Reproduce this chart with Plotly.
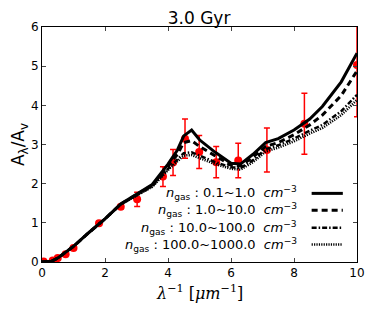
import plotly.graph_objects as go

# model curves
x_model = [0, 0.3, 0.5, 1.0, 1.5, 2.0, 2.5, 3.0, 3.5, 4.0, 4.3, 4.5, 4.75, 5.0, 5.5, 6.0, 6.3, 6.7, 7.1, 7.5, 8.0, 8.5, 8.9, 9.5, 10]
y_n01_1 = [0.0, 0.02, 0.1, 0.4, 0.76, 1.1, 1.48, 1.73, 1.98, 2.5, 2.86, 3.22, 3.37, 3.12, 2.8, 2.52, 2.5, 2.75, 3.05, 3.15, 3.37, 3.65, 3.97, 4.6, 5.33]
y_n1_10 = [0.0, 0.02, 0.1, 0.4, 0.76, 1.1, 1.48, 1.72, 1.96, 2.45, 2.75, 3.05, 3.1, 2.95, 2.7, 2.47, 2.45, 2.68, 2.95, 3.05, 3.25, 3.5, 3.75, 4.25, 4.88]
y_n10_100 = [0.0, 0.02, 0.1, 0.4, 0.76, 1.1, 1.47, 1.7, 1.93, 2.38, 2.62, 2.78, 2.8, 2.72, 2.55, 2.42, 2.4, 2.6, 2.88, 2.98, 3.15, 3.35, 3.5, 3.85, 4.27]
y_n100_1000 = [0.0, 0.02, 0.1, 0.4, 0.76, 1.1, 1.47, 1.7, 1.92, 2.35, 2.58, 2.72, 2.73, 2.66, 2.5, 2.38, 2.36, 2.55, 2.82, 2.92, 3.08, 3.28, 3.42, 3.75, 4.14]

# observed points
x_obs = [0.05, 0.34, 0.5, 0.75, 1.0, 1.81, 2.5, 3.02, 3.84, 4.16, 4.54, 4.99, 5.53, 6.23, 7.14, 8.33, 10.0]
y_obs = [0.01, 0.04, 0.1, 0.2, 0.36, 0.99, 1.41, 1.6, 2.18, 2.54, 3.15, 2.81, 2.55, 2.59, 2.86, 3.53, 5.03]
e_obs = [0, 0, 0, 0, 0, 0, 0.05, 0.18, 0.25, 0.33, 0.5, 0.42, 0.4, 0.44, 0.56, 0.78, 1.32]

legend_labels = [
    "<i>n</i><sub>gas</sub> : 0.1~1.0  <i>cm</i><sup>−3</sup>",
    "<i>n</i><sub>gas</sub> : 1.0~10.0  <i>cm</i><sup>−3</sup>",
    "<i>n</i><sub>gas</sub> : 10.0~100.0  <i>cm</i><sup>−3</sup>",
    "<i>n</i><sub>gas</sub> : 100.0~1000.0  <i>cm</i><sup>−3</sup>",
]

series = [y_n01_1, y_n1_10, y_n10_100, y_n100_1000]
styles = [
    dict(width=3, dash="solid"),
    dict(width=3, dash="6px,4px"),
    dict(width=2.5, dash="5px,2px,1.5px,2px"),
    dict(width=2.5, dash="1.2px,1.2px"),
]

fig = go.Figure()
fig.add_trace(go.Scatter(
    x=x_obs, y=y_obs, mode="markers",
    marker=dict(color="red", size=8),
    error_y=dict(type="data", array=e_obs, color="red", thickness=1.5, width=3),
    showlegend=False,
))
for ys, st in zip(series, styles):
    fig.add_trace(go.Scatter(x=x_model, y=ys, mode="lines",
                             line=dict(color="black", **st), showlegend=False))

# legend (text right-aligned, sample line on the right, as in matplotlib)
row_y = [0.292, 0.220, 0.146, 0.074]
for lab, st, yy in zip(legend_labels, styles, row_y):
    fig.add_annotation(xref="paper", yref="paper", x=0.817, y=yy, text=lab,
                       showarrow=False, xanchor="right", yanchor="middle",
                       font=dict(size=13, color="black"))
    fig.add_shape(type="line", xref="paper", yref="paper",
                  x0=0.856, x1=0.955, y0=yy, y1=yy,
                  line=dict(color="black", **st))

# x-axis title as annotation (placed closer to the tick labels)
fig.add_annotation(xref="paper", yref="paper", x=0.5, y=-0.128, yanchor="middle",
                   xanchor="center", showarrow=False,
                   text="<i>λ</i><sup>−1</sup> [<i>μm</i><sup>−1</sup>]",
                   font=dict(family="DejaVu Serif", size=16, color="black"))

# page body has an 8px default margin; figure is sized to compensate
fig.update_layout(
    width=366, height=304,
    margin=dict(l=34, r=17, t=19, b=50, autoexpand=False),
    paper_bgcolor="white", plot_bgcolor="white",
    font=dict(family="DejaVu Sans", size=12, color="black"),
    title=dict(text="3.0 Gyr", x=0.522, xanchor="center", y=0.967, yanchor="middle",
               font=dict(size=17, color="black")),
)
fig.update_xaxes(range=[0, 10], tickvals=[0, 2, 4, 6, 8, 10], ticks="inside", ticklen=4,
                 showline=True, linecolor="black", linewidth=1, mirror="ticks",
                 showgrid=False, zeroline=False, automargin=False)
fig.update_yaxes(range=[0, 6], tickvals=[0, 1, 2, 3, 4, 5, 6], ticks="inside", ticklen=4,
                 showline=True, linecolor="black", linewidth=1, mirror="ticks",
                 showgrid=False, zeroline=False, automargin=False,
                 title=dict(text="A<sub>λ</sub>/A<sub>v</sub>", standoff=6,
                            font=dict(size=17)))

fig.write_html("out.html")
